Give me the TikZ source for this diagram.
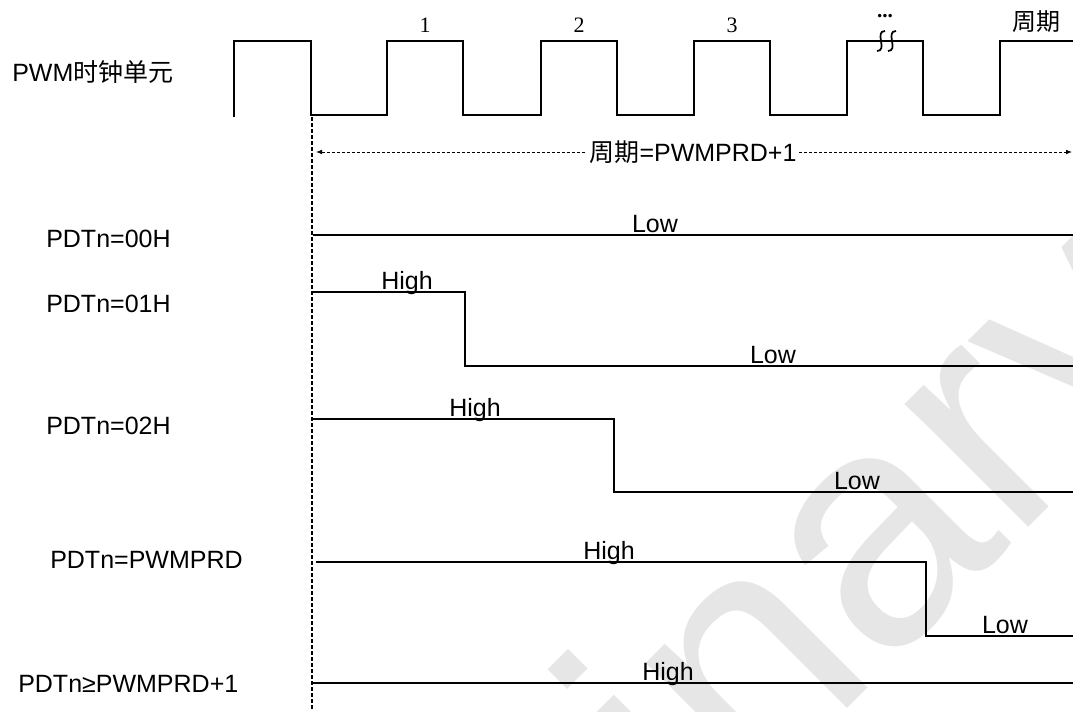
\documentclass[tikz,border=0pt]{standalone}
\usepackage{fontspec}
\setmainfont{Liberation Sans}
\newfontfamily\cjk{Noto Sans CJK SC}
\newfontfamily\tms{Liberation Serif}
\usetikzlibrary{arrows.meta}
\definecolor{wmgray}{RGB}{230,230,230}

\begin{document}
\begin{tikzpicture}[x=0.75pt, y=-0.75pt, >={Latex[length=4.5pt,width=3.5pt]},
  font=\fontsize{18.75}{22}\selectfont,
  sig/.style={line width=1.5pt, line join=miter},
  lbl/.style={inner sep=0pt, anchor=base west},
  lvl/.style={inner sep=0pt, anchor=base},
  refline/.style={line width=1.2pt, dash pattern=on 3pt off 1.5pt},
  dimline/.style={line width=0.6pt, dash pattern=on 2.25pt off 1.5pt},
  wmark/.style={text=wmgray, inner sep=0pt, anchor=base west, rotate=45,
    font=\fontsize{247.5}{250}\selectfont}]
  \useasboundingbox (0,0) rectangle (1073,711);
  % ------------------------------------------------------------------ watermark
  \begin{scope}
    \clip (0,0) rectangle (1073,711);
    \node[wmark] (wm) at (40,1516) {Preliminary};
  \end{scope}
  % ------------------------------------------------------------------ clock
  \node[lbl] (clk) at (12,81) {PWM{\cjk 时钟单元}};
  \draw[sig] (234,117) -- (234,41) -- (311,41) -- (311,115)
    \foreach \r in {387,541,694,847} {-- (\r,115) -- (\r,41) -- (\r+76,41) -- (\r+76,115)}
    -- (1000,115) -- (1000,41) -- (1073,41);
  \foreach \r/\k in {387/1,541/2,694/3}
    \node[lvl, font=\tms\fontsize{16.5}{18}\selectfont] (cnt\k) at (\r+38,32) {\k};
  \node[lvl, font=\tms\bfseries\fontsize{16}{18}\selectfont] (dots) at (885,17) {...};
  \foreach \s in {881,892}
    \draw[line width=1.3pt] (\s+4,31) .. controls (\s-7,31) and (\s+7,51) .. (\s-4,51);
  \node[inner sep=0pt, font=\cjk\fontsize{18}{20}\selectfont] (per) at (1036,22) {周期};
  % ------------------------------------------------------------------ reference line and period
  \coordinate (reftop) at (312,117);
  \coordinate (refbot) at (312,711);
  \draw[refline] (reftop) -- (refbot);
  \node[inner sep=2pt] (dimtxt) at (693,152) {{\cjk 周期}=PWMPRD+1};
  \coordinate (dimL) at (316,152);
  \coordinate (dimR) at (1072,152);
  \draw[dimline, <-] (dimL) -- (dimtxt);
  \draw[dimline, ->] (dimtxt) -- (dimR);
  % ------------------------------------------------------------------ PDTn=00H
  \node[lbl] (d0) at (46,247) {PDTn=00H};
  \draw[sig] (313,235) -- (1073,235);
  \node[lvl] (d0lo) at (655,232) {Low};
  % ------------------------------------------------------------------ PDTn=01H
  \node[lbl] (d1) at (46,312) {PDTn=01H};
  \draw[sig] (313,292) -- (465,292) -- (465,366) -- (1073,366);
  \node[lvl] (d1hi) at (407,289) {High};
  \node[lvl] (d1lo) at (773,363) {Low};
  % ------------------------------------------------------------------ PDTn=02H
  \node[lbl] (d2) at (46,434) {PDTn=02H};
  \draw[sig] (313,419) -- (614,419) -- (614,492) -- (1073,492);
  \node[lvl] (d2hi) at (475,416) {High};
  \node[lvl] (d2lo) at (857,489) {Low};
  % ------------------------------------------------------------------ PDTn=PWMPRD
  \node[lbl] (d3) at (50,568) {PDTn=PWMPRD};
  \draw[sig] (316,562) -- (926,562) -- (926,636) -- (1073,636);
  \node[lvl] (d3hi) at (609,559) {High};
  \node[lvl] (d3lo) at (1005,633) {Low};
  % ------------------------------------------------------------------ PDTn>=PWMPRD+1
  \node[lbl] (d4) at (18,692) {PDTn≥PWMPRD+1};
  \draw[sig] (313,683) -- (1073,683);
  \node[lvl] (d4hi) at (668,680) {High};
\end{tikzpicture}
\end{document}
